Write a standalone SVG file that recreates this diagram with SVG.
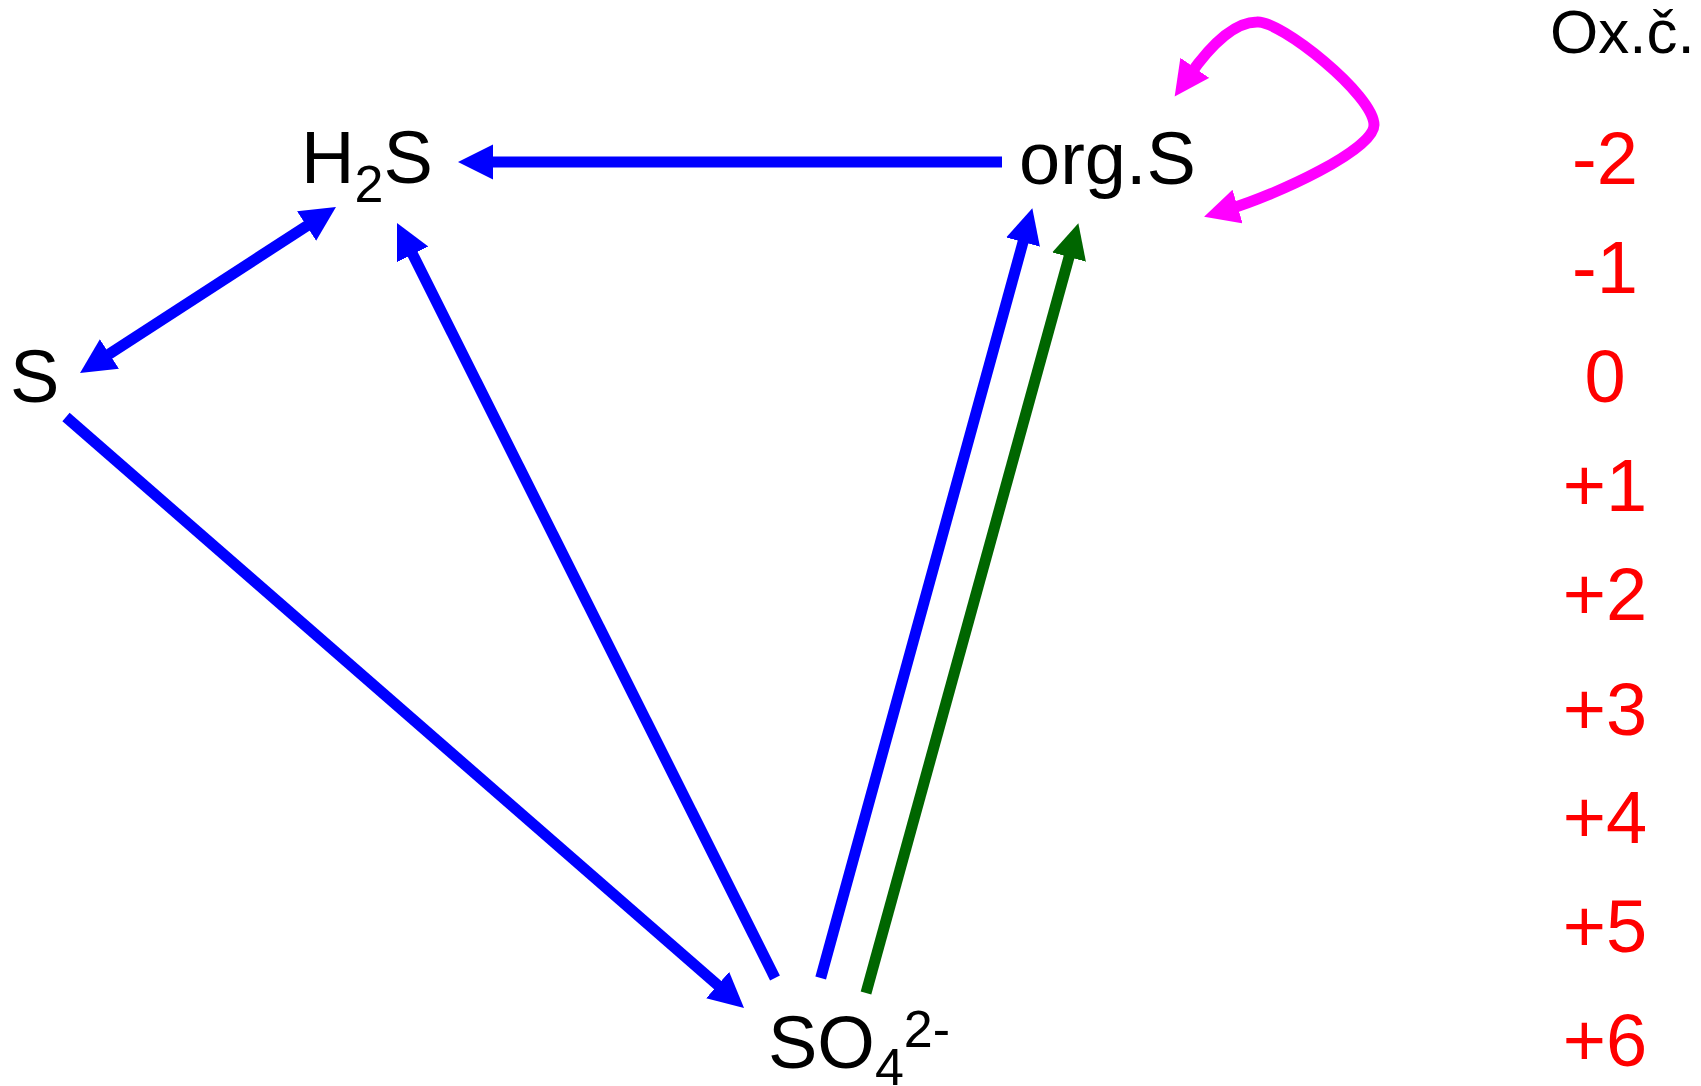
<svg xmlns="http://www.w3.org/2000/svg" width="1701" height="1086" viewBox="0 0 1701 1086">
<style>
text{font-family:"Liberation Sans",Arial,sans-serif;}
.lbl{font-size:74px;fill:#000;}
.sub{font-size:52px;}
.ox{font-size:74px;fill:#ff0000;text-anchor:middle;}
.hdr{font-size:62px;fill:#000;}
.b{stroke:#0000ff;stroke-width:11;fill:none;}
.g{stroke:#006600;stroke-width:11;fill:none;}
.m{stroke:#ff00ff;stroke-width:11;fill:none;stroke-linecap:round;}
</style>
<defs>
<marker id="ab" markerUnits="userSpaceOnUse" markerWidth="36" markerHeight="36" refX="10" refY="17.5" orient="auto-start-reverse" viewBox="0 0 36 36"><path d="M0,0 L35,17.5 L0,35 Z" fill="#0000ff"/></marker>
<marker id="ag" markerUnits="userSpaceOnUse" markerWidth="36" markerHeight="36" refX="10" refY="17.5" orient="auto" viewBox="0 0 36 36"><path d="M0,0 L35,17.5 L0,35 Z" fill="#006600"/></marker>
<marker id="am" markerUnits="userSpaceOnUse" markerWidth="36" markerHeight="36" refX="10" refY="17.5" orient="auto-start-reverse" viewBox="0 0 36 36"><path d="M0,0 L35,17.5 L0,35 Z" fill="#ff00ff"/></marker>
</defs>
<g id="connectors">
<line class="b" x1="1002" y1="162" x2="483" y2="162" marker-end="url(#ab)"/>
<line class="b" x1="101" y1="359.4" x2="315" y2="220.6" marker-start="url(#ab)" marker-end="url(#ab)"/>
<line class="b" x1="66" y1="417" x2="725.2" y2="991.6" marker-end="url(#ab)"/>
<line class="b" x1="775" y1="978" x2="408.2" y2="245.4" marker-end="url(#ab)"/>
<line class="b" x1="820.7" y1="978" x2="1025.7" y2="232.4" marker-end="url(#ab)"/>
<line class="g" x1="866" y1="993" x2="1071.7" y2="247.4" marker-end="url(#ag)"/>
<path class="m" d="M1189,76 C1203,56 1230,22 1257,22 C1280,20 1374,95 1374,125 C1374,150 1276,195 1228,209.5" marker-start="url(#am)" marker-end="url(#am)"/>
</g>
<g id="node-H2S"><text class="lbl" x="301" y="183">H<tspan class="sub" y="202">2</tspan><tspan y="183">S</tspan></text></g>
<g id="node-orgS"><text class="lbl" x="1019" y="184">org.S</text></g>
<g id="node-S"><text class="lbl" x="10" y="402">S</text></g>
<g id="node-SO4"><text class="lbl" x="768" y="1068">SO<tspan class="sub" y="1085">4</tspan><tspan class="sub" y="1047">2-</tspan></text></g>
<g id="scale">
<text class="hdr" x="1550" y="53">Ox.č.</text>
<text class="ox" x="1605" y="184">-2</text>
<text class="ox" x="1605" y="293">-1</text>
<text class="ox" x="1605" y="402">0</text>
<text class="ox" x="1605" y="511">+1</text>
<text class="ox" x="1605" y="620">+2</text>
<text class="ox" x="1605" y="735">+3</text>
<text class="ox" x="1605" y="843">+4</text>
<text class="ox" x="1605" y="952">+5</text>
<text class="ox" x="1605" y="1066">+6</text>
</g>
</svg>
